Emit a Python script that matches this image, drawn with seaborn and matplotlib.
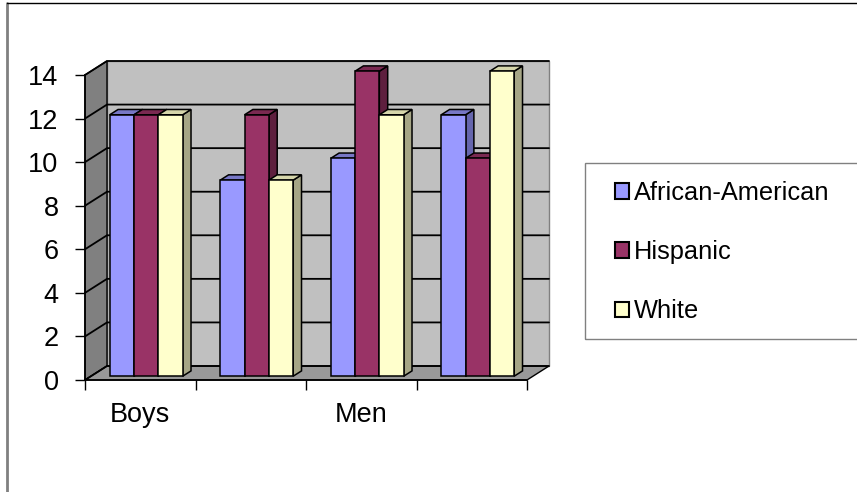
"""Grouped 3D-style column chart: counts by group and ethnicity."""

import numpy as np
import pandas as pd
import matplotlib
matplotlib.use("Agg")
import matplotlib.pyplot as plt
import matplotlib.transforms as mtransforms
from matplotlib.patches import Polygon, Rectangle
from matplotlib.lines import Line2D
import seaborn as sns

# ---------------------------------------------------------------------------
# Data
# ---------------------------------------------------------------------------
groups = ["Boys", "Girls", "Men", "Women"]
group_labels = ["Boys", "", "Men", ""]
series = ["African-American", "Hispanic", "White"]
african_american = [12, 9, 10, 12]
hispanic = [12, 12, 14, 10]
white = [12, 9, 12, 14]
y_ticks = [0, 2, 4, 6, 8, 10, 12, 14]

front_colors = ["#9999FF", "#993366", "#FFFFCC"]
top_colors = ["#7777C6", "#7A2951", "#D6D6AB"]
side_colors = ["#6666AD", "#5E1F3E", "#A6A686"]

# ---------------------------------------------------------------------------
# Aesthetics
# ---------------------------------------------------------------------------
sns.set_style("white")
plt.rcParams["font.family"] = ["Liberation Sans", "DejaVu Sans"]

DPI = 100
W, H = 857, 492
DEPTH = np.array([22.0, 14.0])   # pixel offset front plane -> back wall
BAR_FRONT, BAR_BACK = 0.27, 0.65  # bar depth as fraction of DEPTH

df = pd.DataFrame({
    "group": groups * 3,
    "series": np.repeat(series, len(groups)),
    "value": african_american + hispanic + white,
})

fig = plt.figure(figsize=(W / DPI, H / DPI), dpi=DPI)
# front plane of the plot box in pixels
L, R, B, T = 85, 527, 380, 75
ax = fig.add_axes([L / W, 1 - B / H, (R - L) / W, (B - T) / H])

sns.barplot(data=df, x="group", y="value", hue="series", order=groups,
            hue_order=series, palette=front_colors, saturation=1,
            width=0.66, gap=0, edgecolor="black", linewidth=1.1,
            legend=False, ax=ax)
ax.set_xlim(-0.5, len(groups) - 0.5)
ax.set_ylim(0, 14)
ax.patch.set_visible(False)
ax.set_xlabel("")
ax.set_ylabel("")

ident = mtransforms.IdentityTransform()


def face(points):
    """(x data, y data, depth fraction) -> display coords."""
    return [ax.transData.transform((x, y)) + DEPTH * d for x, y, d in points]


x0, x1 = ax.get_xlim()
ymax = ax.get_ylim()[1]

# walls and floor
ax.add_patch(Polygon(face([(x0, 0, 1), (x1, 0, 1), (x1, ymax, 1), (x0, ymax, 1)]),
                     closed=True, fc="#C0C0C0", ec="#808080", lw=1,
                     transform=ident, zorder=0.2, clip_on=False))
ax.add_patch(Polygon(face([(x0, 0, 0), (x0, ymax, 0), (x0, ymax, 1), (x0, 0, 1)]),
                     closed=True, fc="#808080", ec="black", lw=1,
                     transform=ident, zorder=0.3, clip_on=False))
ax.add_patch(Polygon(face([(x0, 0, 0), (x1, 0, 0), (x1, 0, 1), (x0, 0, 1)]),
                     closed=True, fc="#999999", ec="black", lw=1,
                     transform=ident, zorder=0.3, clip_on=False))

# gridlines on left wall and back wall
for v in y_ticks:
    p = np.array(face([(x0, v, 0), (x0, v, 1), (x1, v, 1)]))
    ax.add_artist(Line2D(p[:, 0], p[:, 1], color="black", lw=1.3,
                         transform=ident, zorder=0.4, clip_on=False))

# bars: shift front faces back, then add side and top faces
shift = mtransforms.ScaledTranslation(DEPTH[0] * BAR_FRONT / DPI,
                                      DEPTH[1] * BAR_FRONT / DPI,
                                      fig.dpi_scale_trans)
bars = []
for j, cont in enumerate(ax.containers):
    for rect in cont:
        bars.append((rect.get_x(), j, rect))
bars.sort(key=lambda b: b[0])

for rank, (_, j, rect) in enumerate(bars):
    x, w, h = rect.get_x(), rect.get_width(), rect.get_height()
    z = 3 + rank * 0.01
    rect.set_transform(ax.transData + shift)
    rect.set_zorder(z + 0.005)
    rect.set_clip_on(False)
    side = face([(x + w, 0, BAR_FRONT), (x + w, h, BAR_FRONT),
                 (x + w, h, BAR_BACK), (x + w, 0, BAR_BACK)])
    top = face([(x, h, BAR_FRONT), (x + w, h, BAR_FRONT),
                (x + w, h, BAR_BACK), (x, h, BAR_BACK)])
    ax.add_patch(Polygon(side, closed=True, fc=side_colors[j], ec="black",
                         lw=1.1, transform=ident, zorder=z, clip_on=False))
    ax.add_patch(Polygon(top, closed=True, fc=top_colors[j], ec="black",
                         lw=1.1, transform=ident, zorder=z, clip_on=False))

# axes lines and ticks
for s in ["top", "right"]:
    ax.spines[s].set_visible(False)
for s in ["left", "bottom"]:
    ax.spines[s].set_color("black")
    ax.spines[s].set_linewidth(1.2)

ax.set_yticks(y_ticks)
ax.tick_params(axis="y", left=True, direction="out", length=7, width=1,
               color="black", pad=12, labelsize=19.5, labelcolor="black")
ax.set_xticks(np.arange(-0.5, len(groups), 1))
ax.set_xticklabels([])
ax.tick_params(axis="x", which="major", bottom=True, direction="out",
               length=7, width=1, color="black")
ax.set_xticks(range(len(groups)), minor=True)
ax.set_xticklabels(group_labels, minor=True)
ax.tick_params(axis="x", which="minor", bottom=True, length=0, pad=16,
               labelsize=19.5, labelcolor="black")

# legend
handles = [Rectangle((0, 0), 1, 1, fc=c, ec="black", lw=1.5) for c in front_colors]
fig.legend(handles, series, loc="upper left",
           bbox_to_anchor=(615 / W, 1 - 181 / H), frameon=False, fontsize=18.3,
           handlelength=0.55, handleheight=0.55, handletextpad=0.2,
           labelspacing=1.38, borderpad=0, borderaxespad=0,
           labelcolor="black")
fig.add_artist(Rectangle((585 / W, 1 - 339 / H), (870 - 585) / W, (339 - 163) / H,
                         transform=fig.transFigure, fill=False, ec="#808080", lw=1))

# chart area border
fig.add_artist(Line2D([7 / W, 7 / W], [0, 1 - 3 / H], color="#808080", lw=2,
                      transform=fig.transFigure))
fig.add_artist(Line2D([7 / W, 1], [1 - 3 / H, 1 - 3 / H], color="black", lw=1,
                      transform=fig.transFigure))

fig.savefig("out.png", dpi=DPI, facecolor="white")
